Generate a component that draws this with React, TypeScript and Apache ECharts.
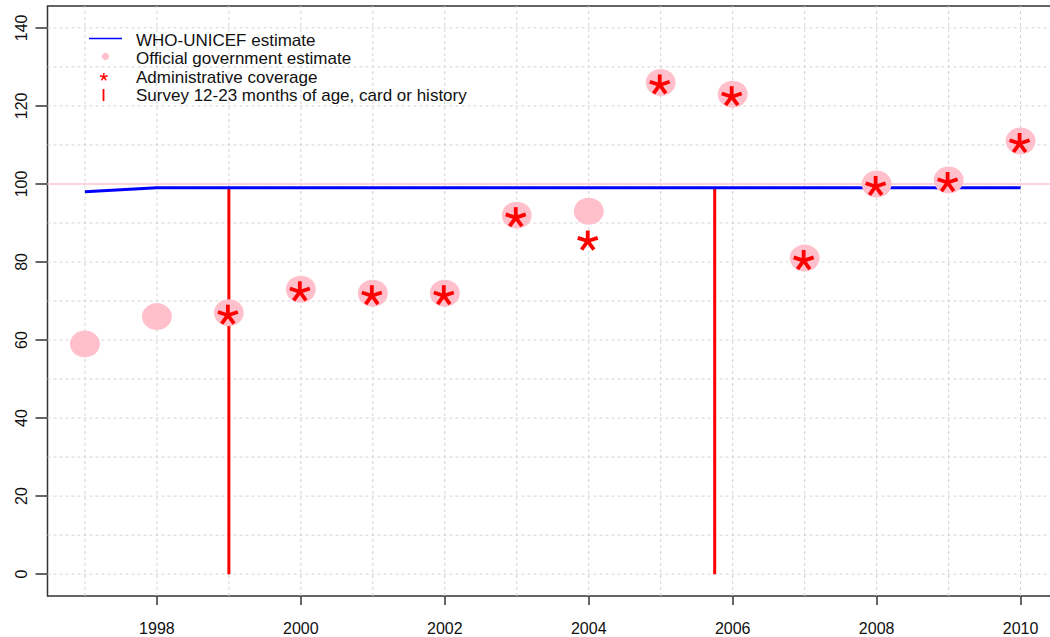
import React, { useEffect, useRef } from "react";
import * as echarts from "echarts";

// ---------------- data ----------------
const years = [1997, 1998, 1999, 2000, 2001, 2002, 2003, 2004, 2005, 2006, 2007, 2008, 2009, 2010];
const whoUnicef = [98, 99, 99, 99, 99, 99, 99, 99, 99, 99, 99, 99, 99, 99];
const official = [59, 66, 67, 73, 72, 72, 92, 93, 126, 123, 81, 100, 101, 111];
const adminYears = [1999, 2000, 2001, 2002, 2003, 2004, 2005, 2006, 2007, 2008, 2009, 2010];
const admin = [67, 73, 72, 72, 92, 86, 126, 123, 81, 100, 101, 111];
const surveyYears = [1999, 2005.75];
const survey = [99, 99];
const referenceValue = 100;
const xTickLabels = [1998, 2000, 2002, 2004, 2006, 2008, 2010];
const yTickLabels = [0, 20, 40, 60, 80, 100, 120, 140];
const xGridLines = [1997, 1998, 1999, 2000, 2001, 2002, 2003, 2004, 2005, 2006, 2007, 2008, 2009, 2010];
const yGridLines = [0, 10, 20, 30, 40, 50, 60, 70, 80, 90, 100, 110, 120, 130, 140];
const legendLabels = [
  "WHO-UNICEF estimate",
  "Official government estimate",
  "Administrative coverage",
  "Survey 12-23 months of age, card or history",
];

const X_MIN = 1996.48;
const X_MAX = 2010.52;
const Y_MIN = -5.6;
const Y_MAX = 145.6;

const FONT = '"Liberation Sans", Arial, Helvetica, sans-serif';
const TEXT = "#111111";
const AXIS = "#333333";
const GRID = "#D3D3D3";
const PINK = "#FFC0CB";
const RED = "#FF0000";
const BLUE = "#0000FF";

function star(cx: number, cy: number, len: number, width: number) {
  const children: any[] = [];
  for (let k = 0; k < 5; k++) {
    const a = (k * 72 * Math.PI) / 180;
    children.push({
      type: "line",
      shape: { x1: cx, y1: cy, x2: cx + len * Math.sin(a), y2: cy - len * Math.cos(a) },
      style: { stroke: RED, lineWidth: width, lineCap: "butt" },
    });
  }
  return { type: "group", children };
}

function buildOption() {
  const gridData = [
    ...xGridLines.map((x) => [x, Y_MIN, 0]),
    ...yGridLines.map((y) => [X_MIN, y, 1]),
  ];
  const legendY = [40.5, 58, 77, 95.5];
  const graphic: any[] = [
    {
      type: "line",
      z: 100,
      shape: { x1: 89, y1: 38.5, x2: 122, y2: 38.5 },
      style: { stroke: BLUE, lineWidth: 1.6 },
    },
    { type: "circle", z: 100, shape: { cx: 105.5, cy: 56.5, r: 3.6 }, style: { fill: PINK } },
    { ...star(103.8, 77, 4, 1.4), z: 100 },
    { type: "rect", z: 100, shape: { x: 102.6, y: 89, width: 1.8, height: 12 }, style: { fill: RED } },
    ...legendLabels.map((t, i) => ({
      type: "text",
      z: 100,
      x: 136,
      y: legendY[i],
      style: {
        text: t,
        fontSize: 17,
        lineHeight: 15,
        fontFamily: FONT,
        fill: TEXT,
        verticalAlign: "middle",
        align: "left",
      },
    })),
  ];

  return {
    animation: false,
    backgroundColor: "#ffffff",
    grid: {
      left: 47.5,
      top: 6,
      right: -8,
      bottom: 41,
      show: true,
      borderColor: AXIS,
      borderWidth: 1.5,
      backgroundColor: "transparent",
      containLabel: false,
      outerBoundsMode: "none",
    },
    xAxis: {
      type: "value",
      min: X_MIN,
      max: X_MAX,
      axisLine: { show: false, onZero: false },
      splitLine: { show: false },
      axisTick: { show: true, inside: false, length: 9, customValues: xTickLabels, lineStyle: { color: AXIS, width: 1.5 } },
      axisLabel: {
        customValues: xTickLabels,
        margin: 24,
        fontSize: 16,
        fontFamily: FONT,
        color: TEXT,
        formatter: (v: number) => String(v),
      },
    },
    yAxis: {
      type: "value",
      min: Y_MIN,
      max: Y_MAX,
      axisLine: { show: false, onZero: false },
      splitLine: { show: false },
      axisTick: { show: true, inside: false, length: 12, customValues: yTickLabels, lineStyle: { color: AXIS, width: 1.5 } },
      axisLabel: {
        customValues: yTickLabels,
        rotate: 90,
        margin: 18,
        fontSize: 16,
        fontFamily: FONT,
        color: TEXT,
        formatter: (v: number) => String(v),
      },
    },
    graphic,
    series: [
      {
        type: "custom",
        name: "grid",
        silent: true,
        z: 1,
        encode: { x: 0, y: 1 },
        data: gridData,
        renderItem: (params: any, api: any) => {
          const kind = api.value(2);
          let p0, p1;
          if (kind === 0) {
            p0 = api.coord([api.value(0), Y_MIN]);
            p1 = api.coord([api.value(0), Y_MAX]);
          } else {
            p0 = api.coord([X_MIN, api.value(1)]);
            p1 = api.coord([X_MAX, api.value(1)]);
          }
          return {
            type: "line",
            shape: { x1: p0[0], y1: p0[1], x2: p1[0], y2: p1[1] },
            style: { stroke: GRID, lineWidth: 1, lineDash: [3, 3] },
          };
        },
      },
      {
        type: "line",
        name: "reference",
        silent: true,
        z: 2,
        symbol: "none",
        data: [
          [X_MIN, referenceValue],
          [X_MAX, referenceValue],
        ],
        lineStyle: { color: "#FFC8D0", width: 1.5 },
      },
      {
        type: "custom",
        name: "Survey 12-23 months of age, card or history",
        silent: true,
        z: 3,
        encode: { x: 0, y: 1 },
        data: surveyYears.map((y, i) => [y, survey[i]]),
        renderItem: (params: any, api: any) => {
          const p0 = api.coord([api.value(0), 0]);
          const p1 = api.coord([api.value(0), api.value(1)]);
          return {
            type: "line",
            shape: { x1: p0[0], y1: p0[1], x2: p1[0], y2: p1[1] },
            style: { stroke: RED, lineWidth: 3 },
          };
        },
      },
      {
        type: "line",
        name: "WHO-UNICEF estimate",
        silent: true,
        z: 4,
        symbol: "none",
        data: years.map((y, i) => [y, whoUnicef[i]]),
        lineStyle: { color: BLUE, width: 3 },
      },
      {
        type: "scatter",
        name: "Official government estimate",
        silent: true,
        z: 5,
        symbol: "circle",
        symbolSize: [30, 27],
        data: years.map((y, i) => [y, official[i]]),
        itemStyle: { color: PINK, opacity: 1 },
      },
      {
        type: "custom",
        name: "Administrative coverage",
        silent: true,
        z: 6,
        encode: { x: 0, y: 1 },
        data: adminYears.map((y, i) => [y, admin[i]]),
        renderItem: (params: any, api: any) => {
          const p = api.coord([api.value(0), api.value(1)]);
          return star(p[0] - 1, p[1] + 2.5, 10.5, 3.8);
        },
      },
    ],
  };
}

export default function App() {
  const ref = useRef<HTMLDivElement>(null);
  useEffect(() => {
    if (!ref.current) return;
    const chart = echarts.init(ref.current, null, { renderer: "svg" });
    chart.setOption(buildOption() as any);
    return () => chart.dispose();
  }, []);
  return (
    <div
      ref={ref}
      style={{ position: "fixed", left: 0, top: 0, width: 1050, height: 637, background: "#ffffff" }}
    />
  );
}
